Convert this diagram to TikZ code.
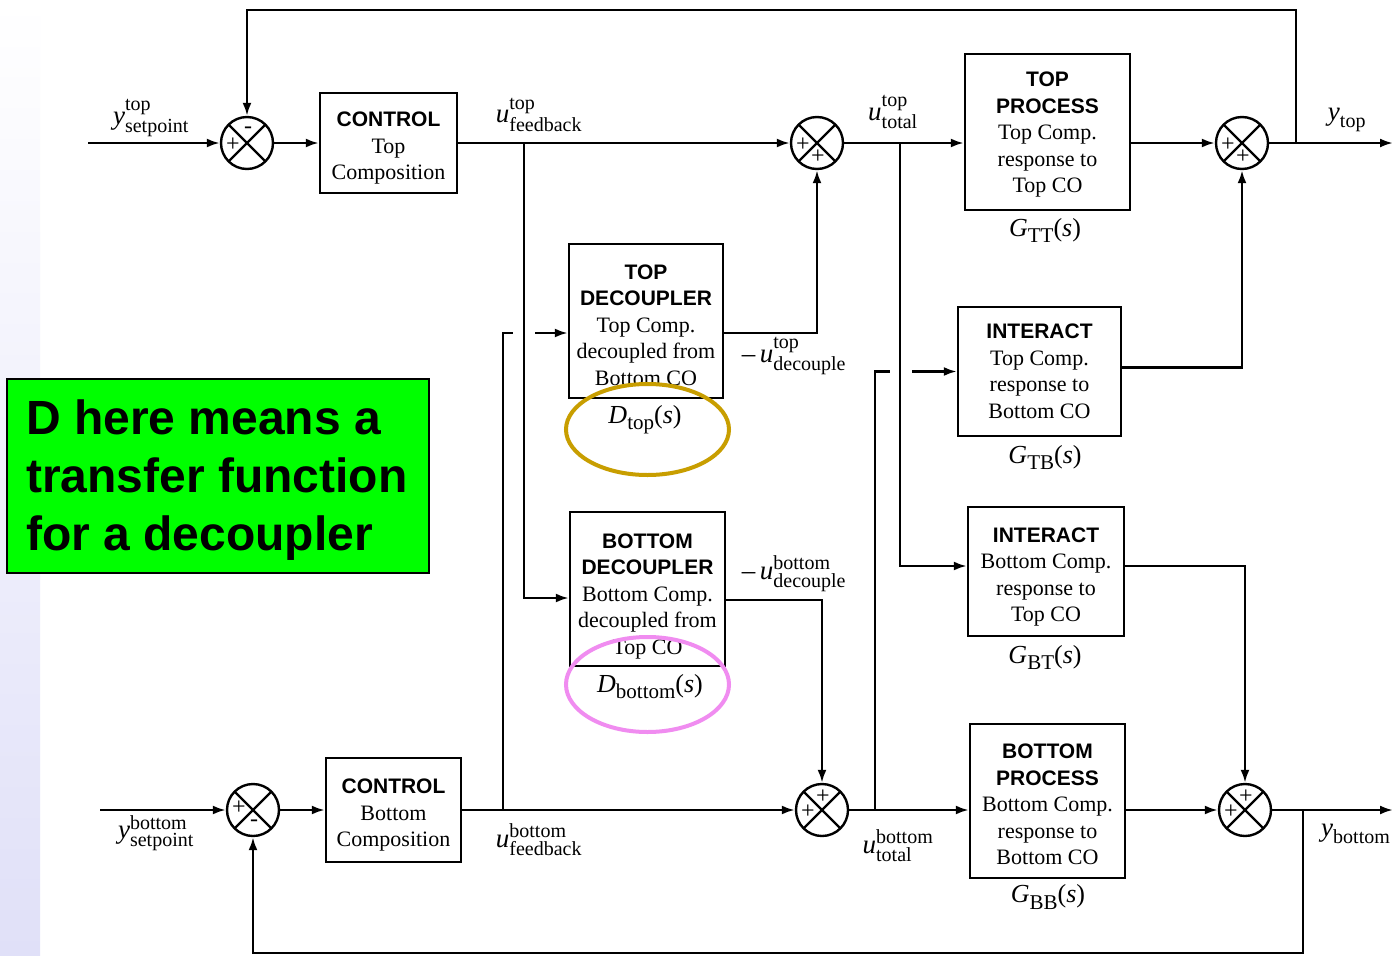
\documentclass[tikz,border=0pt]{standalone}
\usepackage{fix-cm}
\usepackage{amsmath}
\usepackage{fontspec}
\setmainfont{Liberation Serif}
\setsansfont{Liberation Sans}
\usetikzlibrary{arrows.meta,calc}
\definecolor{gold}{RGB}{200,158,0}
\definecolor{pinkc}{RGB}{240,140,240}
\definecolor{lav}{RGB}{224,224,248}
\definecolor{notegreen}{RGB}{0,255,0}
\newcommand{\hd}[1]{{\sffamily\bfseries\fontsize{21}{26.5}\selectfont #1}}
\newcommand{\ssz}[1]{\text{\fontsize{20}{20}\selectfont #1}}
\newcommand{\sigl}[3]{$\textit{#1}^{\ssz{#2}}_{\ssz{#3}}$}
\newcommand{\sigs}[2]{$\textit{#1}_{\ssz{#2}}$}
\newcommand{\tfn}[2]{\textit{#1}\raisebox{-6pt}{\fontsize{21}{21}\selectfont #2}(\textit{s})}
% block: name, center, width, height, text offset, text
\newcommand{\blk}[6]{%
  \node[box,minimum width=#3,minimum height=#4] (#1) at (#2) {};
  \node[boxtxt] (#1t) at ($(#1)+(0,#5)$) {#6};}
\begin{document}
\begin{tikzpicture}[x=1pt,y=-1pt,
  ln/.style={line width=2.4pt},
  arr/.style={ln,-{Latex[length=13pt,width=9pt]}},
  box/.style={draw,line width=2.4pt,inner sep=0pt},
  boxtxt/.style={align=center,inner sep=0pt,font=\fontsize{22}{26.5}\selectfont},
  sj/.style={circle,draw,line width=2.4pt,minimum size=52pt,inner sep=0pt,
    path picture={\draw[line width=2.4pt] (path picture bounding box.north west)--(path picture bounding box.south east)
      (path picture bounding box.north east)--(path picture bounding box.south west);}},
  sgn/.style={font=\fontsize{24}{24}\selectfont,inner sep=0pt},
  lbl/.style={font=\fontsize{27}{27}\selectfont,inner sep=0pt},
  tf/.style={font=\fontsize{26}{26}\selectfont,inner sep=0pt},
]
\useasboundingbox (0,0) rectangle (1393,956);
\fill[white] (0,0) rectangle (1393,956);
\shade[top color=white,bottom color=lav] (0,0) rectangle (40,956);

% summing junctions
\node[sj] (S1) at (247,143) {};
\node[sj] (S2) at (817,143) {};
\node[sj] (S3) at (1242,143) {};
\node[sj] (S4) at (253,810) {};
\node[sj] (S5) at (822,810) {};
\node[sj] (S6) at (1245,810) {};
\node[sgn] (s1a) at ($(S1)+(-14,2)$) {+};
\node[sgn] (s1b) at ($(S1)+(1,-13)$) {-};
\node[sgn] (s2a) at ($(S2)+(-14,2)$) {+};
\node[sgn] (s2b) at ($(S2)+(1,14)$) {+};
\node[sgn] (s3a) at ($(S3)+(-14,2)$) {+};
\node[sgn] (s3b) at ($(S3)+(1,14)$) {+};
\node[sgn] (s4a) at ($(S4)+(-14,-2)$) {+};
\node[sgn] (s4b) at ($(S4)+(1,13)$) {-};
\node[sgn] (s5a) at ($(S5)+(-14,2)$) {+};
\node[sgn] (s5b) at ($(S5)+(1,-13)$) {+};
\node[sgn] (s6a) at ($(S6)+(-14,2)$) {+};
\node[sgn] (s6b) at ($(S6)+(1,-13)$) {+};

% blocks
\blk{CT}{388.5,143}{137}{100}{5.5}{\hd{CONTROL}\\Top\\Composition}
\blk{CB}{393.5,810}{135}{104}{5.5}{\hd{CONTROL}\\Bottom\\Composition}
\blk{TD}{646,321}{154}{154}{4}{\hd{TOP}\\\hd{DECOUPLER}\\Top Comp.\\decoupled from\\Bottom CO}
\blk{BD}{647.5,589}{155}{154}{7.5}{\hd{BOTTOM}\\\hd{DECOUPLER}\\Bottom Comp.\\decoupled from\\Top CO}
\blk{TP}{1047.5,132}{165}{156}{3}{\hd{TOP}\\\hd{PROCESS}\\Top Comp.\\response to\\Top CO}
\blk{ITB}{1039.5,371.5}{163}{129}{0}{\hd{INTERACT}\\Top Comp.\\response to\\Bottom CO}
\blk{IBT}{1046,571.5}{156}{129}{5.5}{\hd{INTERACT}\\Bottom Comp.\\response to\\Top CO}
\blk{BP}{1047.5,801}{155}{154}{3.5}{\hd{BOTTOM}\\\hd{PROCESS}\\Bottom Comp.\\response to\\Bottom CO}

% transfer function labels
\node[tf] (gtt) at (1045,230) {\tfn{G}{TT}};
\node[tf] (dtop) at (645,420) {\tfn{D}{top}};
\node[tf] (gtb) at (1045,458) {\tfn{G}{TB}};
\node[tf] (gbt) at (1045,658) {\tfn{G}{BT}};
\node[tf] (dbot) at (650,687) {\tfn{D}{bottom}};
\node[tf] (gbb) at (1048,897) {\tfn{G}{BB}};

% signal labels
\node[lbl] (l1) at (151,118) {\sigl{y}{top}{setpoint}};
\node[lbl] (l2) at (539,115) {\sigl{u}{top}{feedback}};
\node[lbl] (l3) at (893,112) {\sigl{u}{top}{total}};
\node[lbl] (l4) at (1347,120) {\sigs{y}{top}};
\node[lbl] (l5) at (794,356) {\textendash\,\sigl{u}{top}{decouple}};
\node[lbl] (l6) at (794,574) {\textendash\,\sigl{u}{bottom}{decouple}};
\node[lbl] (l7) at (156,833) {\sigl{y}{bottom}{setpoint}};
\node[lbl] (l8) at (539,840) {\sigl{u}{bottom}{feedback}};
\node[lbl] (l9) at (898,846) {\sigl{u}{bottom}{total}};
\node[lbl,anchor=west] (l10) at (1321,834) {\sigs{y}{bottom}};

% coordinates
\coordinate (inT) at (88,143);
\coordinate (inB) at (100,810);
\coordinate (outT) at (1393,143);
\coordinate (outB) at (1393,810);
\coordinate (fbT) at (524,143);
\coordinate (fbB) at (503,810);
\coordinate (tdk) at (503,333);
\coordinate (tdg1) at (513,333);
\coordinate (tdg2) at (535,333);
\coordinate (utT) at (900,143);
\coordinate (utB) at (875,810);
\coordinate (tbk) at (875,371.5);
\coordinate (tbg1) at (890,371.5);
\coordinate (tbg2) at (912,371.5);
\coordinate (yT) at (1296,143);
\coordinate (yTk) at (1296,10);
\coordinate (yB) at (1303,810);
\coordinate (yBk) at (1303,953);

% top loop
\draw[arr] (inT) -- (S1);
\draw[arr] (S1) -- (CT);
\draw[arr] (CT) -- (S2);
\draw[arr] (S2.east) -- (S2 -| TP.west);
\draw[arr] (TP.east |- S3) -- (S3.west);
\draw[arr] (S3) -- (outT);
\draw[arr] (yT) -- (yTk) -| (S1.north);
\draw[arr] (fbT) |- ([yshift=-9pt]BD.west);
\draw[ln] (fbB) -- (tdk) -- (tdg1);
\draw[arr] (tdg2) -- ([yshift=-12pt]TD.west);
\draw[arr] ([yshift=-12pt]TD.east) -| (S2.south);
\draw[arr] (utT) |- ([yshift=5.5pt]IBT.west);
\draw[ln] (utB) -- (tbk) -- (tbg1);
\draw[arr] (tbg2) -- (ITB.west);
\draw[arr] ([yshift=4pt]ITB.east) -| (S3.south);

% bottom loop
\draw[arr] (inB) -- (S4);
\draw[arr] (S4) -- (CB);
\draw[arr] (CB) -- (S5);
\draw[arr] (S5.east) -- (S5 -| BP.west);
\draw[arr] (BP.east |- S6) -- (S6.west);
\draw[arr] (S6) -- (outB);
\draw[arr] (yB) -- (yBk) -| (S4.south);
\draw[arr] ([yshift=-11pt]BD.east) -| (S5.north);
\draw[arr] ([yshift=5.5pt]IBT.east) -| (S6.north);

% highlight ellipses
\draw[gold,line width=4pt] (647.5,429.5) ellipse [x radius=81.5,y radius=45.5];
\draw[pinkc,line width=4pt] (647.5,684.5) ellipse [x radius=81.5,y radius=47.5];

% note
\node[draw=black,line width=2pt,fill=notegreen,minimum width=422,minimum height=194,inner sep=0pt] (note) at (218,476) {};
\node[anchor=west,align=left,inner sep=0pt,font=\sffamily\bfseries\fontsize{48}{58}\selectfont] (notetxt) at (26,480)
  {D here means a\\transfer function\\for a decoupler};
\end{tikzpicture}
\end{document}
